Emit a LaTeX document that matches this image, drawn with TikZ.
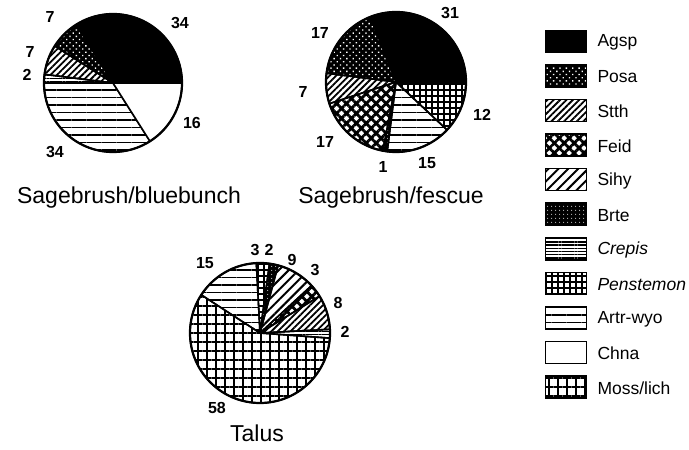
\documentclass[tikz,border=0pt]{standalone}
\usepackage{fontspec}
\setmainfont{Liberation Sans}
\usepackage{tikz}
\usetikzlibrary{
	positioning,
	patterns.meta
}
\tikzset{
  % slices
	cstpie/.style     ={draw=black, line width=1.6pt, line join=round},
	cstagsp/.style    ={fill=black},
	cstposa/.style    ={preaction={fill=black}, pattern={Dots[distance=4.5pt,angle=45,radius=0.95pt]}, pattern color=white},
	cststth/.style    ={pattern={Lines[distance=4.5pt,angle=45,line width=1.8pt]}},
	cstfeid/.style    ={pattern={Hatch[distance=7pt,angle=45,line width=2.8pt]}},
	cstsihy/.style    ={pattern={Lines[distance=7pt,angle=45,line width=2pt]}},
	cstbrte/.style    ={preaction={fill=black}, pattern={Dots[distance=4pt,radius=0.6pt]}, pattern color=white},
	cstcrepis/.style  ={pattern={Lines[distance=3.2pt,angle=0,line width=1.4pt]}},
	cstpenst/.style   ={pattern={Hatch[distance=6pt,angle=0,line width=2.2pt]}},
	cstartr/.style    ={pattern={Lines[distance=7.5pt,angle=0,line width=1.8pt]}},
	cstchna/.style    ={fill=white},
	cstmoss/.style    ={pattern={Hatch[distance=9pt,angle=0,line width=2.2pt]}},
  % text
	cstnum/.style     ={font=\fontsize{16}{16}\selectfont\bfseries, inner sep=0pt},
	csttitle/.style   ={font=\fontsize{23}{23}\selectfont, inner sep=0pt},
	cstlab/.style     ={font=\fontsize{17.5}{17.5}\selectfont, inner sep=0pt, anchor=west},
	cstbox/.style     ={draw=black, line width=1.6pt, minimum width=41pt, minimum height=22pt, inner sep=0pt}
}

\begin{document}
\begin{tikzpicture}[x=1pt,y=1pt]
	\useasboundingbox (0,0) rectangle (689,450);
	% Sagebrush/bluebunch
	\begin{scope}[shift={(113,367)}]
		\def\rad{69}
		\foreach \a/\b/\s in {0/122.4/cstagsp, 122.4/147.6/cstposa, 147.6/172.8/cststth,
			172.8/180/cstcrepis, 180/302.4/cstartr, 302.4/360/cstchna}
			\draw[cstpie,\s] (0,0) -- (\a:\rad) arc[start angle=\a,end angle=\b,radius=\rad] -- cycle;
		\draw[line width=2.2pt] (0,0) circle[radius=\rad];
	\end{scope}
	\node[cstnum] (bbagsp) at (180,427) {34};
	\node[cstnum] (bbposa) at (50,433) {7};
	\node[cstnum] (bbstth) at (30,398) {7};
	\node[cstnum] (bbcrep) at (27,375) {2};
	\node[cstnum] (bbchna) at (192,327) {16};
	\node[cstnum] (bbartr) at (55,298) {34};
	\node[csttitle] (bbtitle) at (129,252) {Sagebrush/bluebunch};
	% Sagebrush/fescue
	\begin{scope}[shift={(396,368)}]
		\def\rad{70}
		\foreach \a/\b/\s in {0/111.6/cstagsp, 111.6/172.8/cstposa, 172.8/198/cststth,
			198/259.2/cstfeid, 259.2/262.8/cstbrte, 262.8/316.8/cstartr, 316.8/360/cstpenst}
			\draw[cstpie,\s] (0,0) -- (\a:\rad) arc[start angle=\a,end angle=\b,radius=\rad] -- cycle;
		\draw[line width=2.2pt] (0,0) circle[radius=\rad];
	\end{scope}
	\node[cstnum] (sfagsp) at (450,437) {31};
	\node[cstnum] (sfposa) at (320,417) {17};
	\node[cstnum] (sfstth) at (303,358) {7};
	\node[cstnum] (sffeid) at (325,308) {17};
	\node[cstnum] (sfbrte) at (383,283) {1};
	\node[cstnum] (sfartr) at (427,287) {15};
	\node[cstnum] (sfpens) at (482,335) {12};
	\node[csttitle] (sftitle) at (391,252) {Sagebrush/fescue};
	% Talus
	\begin{scope}[shift={(260,117)}]
		\def\rad{70}
		\foreach \a/\b/\s in {82.2/93/cstpenst, 75/82.2/cstbrte, 42.6/75/cstsihy, 31.8/42.6/cstfeid,
			3/31.8/cststth, -4.2/3/cstcrepis, -213/-4.2/cstmoss, -267/-213/cstartr}
			\draw[cstpie,\s] (0,0) -- (\a:\rad) arc[start angle=\a,end angle=\b,radius=\rad] -- cycle;
		\draw[line width=2.2pt] (0,0) circle[radius=\rad];
	\end{scope}
	\node[cstnum] (tapens) at (255,200) {3};
	\node[cstnum] (tabrte) at (269,200) {2};
	\node[cstnum] (tasihy) at (292,190) {9};
	\node[cstnum] (tafeid) at (315,180) {3};
	\node[cstnum] (tastth) at (338,147) {8};
	\node[cstnum] (tacrep) at (345,118) {2};
	\node[cstnum] (tamoss) at (217,42) {58};
	\node[cstnum] (taartr) at (205,187) {15};
	\node[csttitle] (tatitle) at (257,17) {Talus};
	% legend
	\foreach \s/\l [count=\i] in {cstagsp/Agsp, cstposa/Posa, cststth/Stth, cstfeid/Feid,
		cstsihy/Sihy, cstbrte/Brte, cstcrepis/{\itshape Crepis}, cstpenst/{\itshape Penstemon},
		cstartr/Artr-wyo, cstchna/Chna, cstmoss/{Moss/lich}}
	{
		\node[cstbox,\s] (box\i) at (566,{408.5-34.55*(\i-1)}) {};
		\node[cstlab,right=10pt of box\i.east,yshift=-1pt] (lab\i) {\l};
	}
\end{tikzpicture}
\end{document}
